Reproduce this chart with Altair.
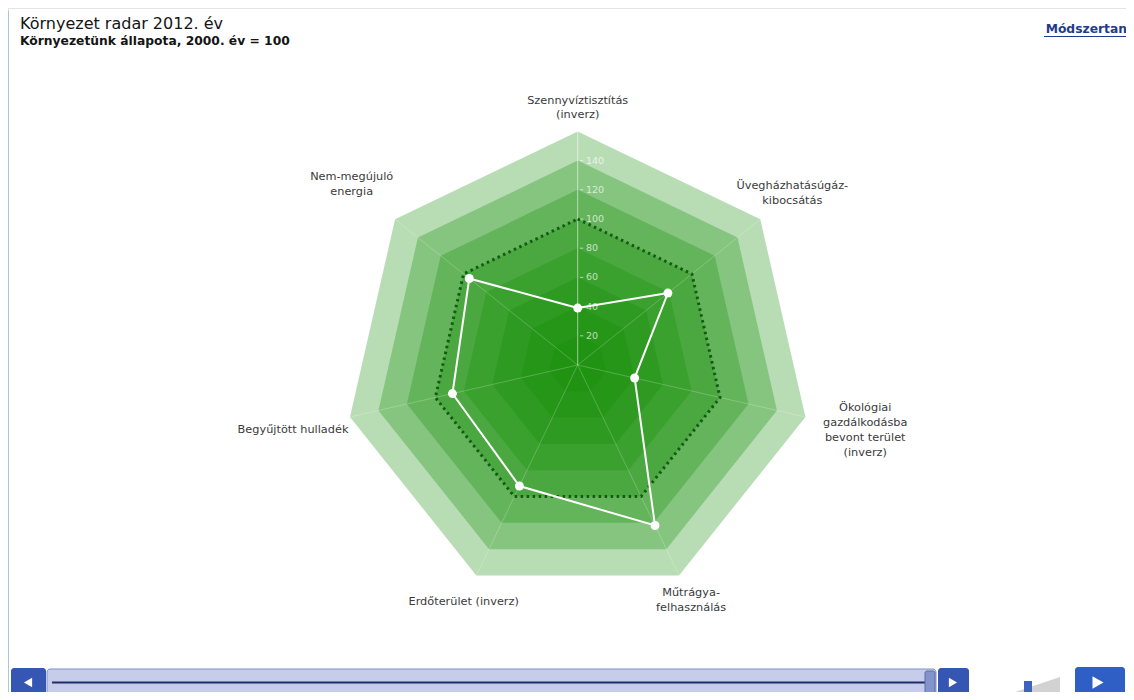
import math
import altair as alt
import pandas as pd

# ---------------- data ----------------
categories = [
    "Szennyvíztisztítás\n(inverz)",
    "Üvegházhatásúgáz-\nkibocsátás",
    "Ökológiai\ngazdálkodásba\nbevont terület\n(inverz)",
    "Műtrágya-\nfelhasználás",
    "Erdőterület (inverz)",
    "Begyűjtött hulladék",
    "Nem-megújuló\nenergia",
]
values_2012 = [39, 79, 40, 122, 92, 88, 95]
base_level = 100
band_levels = [160, 140, 120, 100, 80, 60, 40, 20]
tick_values = [20, 40, 60, 80, 100, 120, 140]
title_text = "Környezet radar 2012. év"
subtitle_text = "Környezetünk állapota, 2000. év = 100"
link_text = "Módszertan"

# ---------------- layout (not data) ----------------
label_radius = [176, 188, 202, 179, 180, 200, 198]
LINE_H = 14.8
W, H = 1118, 684
CX, CY = 569.7, 357.0
K = 1.46
PROJ = dict(type="identity", scale=K, translate=[CX, CY], reflectY=True)

n = len(categories)
ang = [2 * math.pi * i / n for i in range(n)]


def pol(v, a):
    return v * math.sin(a), v * math.cos(a)


# bands (filled heptagons) as GeoJSON
features = []
for lv in band_levels:
    ring = [list(pol(lv, a)) for a in ang]
    ring.append(ring[0])
    features.append({"type": "Feature", "properties": {"level": lv},
                     "geometry": {"type": "Polygon", "coordinates": [ring]}})

bands = alt.Chart(alt.Data(values=features)).mark_geoshape(
    fill="#138d08", fillOpacity=0.3, strokeWidth=0
).project(**PROJ)

# spokes
spk = pd.DataFrame({
    "i": list(range(n)),
    "lon": [0.0] * n, "lat": [0.0] * n,
    "lon2": [pol(160, a)[0] for a in ang],
    "lat2": [pol(160, a)[1] for a in ang],
    "top": [1] + [0] * (n - 1),
})
spokes = alt.Chart(spk).mark_rule(color="white", strokeWidth=1).encode(
    longitude="lon:Q", latitude="lat:Q", longitude2="lon2", latitude2="lat2",
    opacity=alt.condition("datum.top == 1", alt.value(0.55), alt.value(0.22)),
).project(**PROJ)

# 100 reference polygon (dotted)
ref_rows = []
for j in range(n + 1):
    x, y = pol(base_level, ang[j % n])
    ref_rows.append({"o": j, "lon": x, "lat": y})
ref_line = alt.Chart(pd.DataFrame(ref_rows)).mark_line(
    color="#145a12", strokeWidth=3, strokeDash=[2.5, 3.5], strokeCap="butt"
).encode(longitude="lon:Q", latitude="lat:Q", order="o:Q").project(**PROJ)

# tick labels along top axis
tk = pd.DataFrame({"v": tick_values})
tk["lon"] = 5.6
tk["lat"] = tk["v"]
tk["lon_a"] = 1.6
tk["lon_b"] = 3.8
tk["txt"] = tk["v"].astype(str)
tick_marks = alt.Chart(tk).mark_rule(color="white", opacity=0.6, strokeWidth=1).encode(
    longitude="lon_a:Q", latitude="lat:Q", longitude2="lon_b", latitude2="lat"
).project(**PROJ)
tick_text = alt.Chart(tk).mark_text(
    align="left", baseline="middle", font="DejaVu Sans", fontSize=9.5,
    color="white", opacity=0.68
).encode(longitude="lon:Q", latitude="lat:Q", text="txt:N").project(**PROJ)

# data polygon
rows = []
for j in range(n + 1):
    i = j % n
    x, y = pol(values_2012[i], ang[i])
    rows.append({"o": j, "lon": x, "lat": y, "v": values_2012[i]})
dat = pd.DataFrame(rows)
data_line = alt.Chart(dat).mark_line(color="white", strokeWidth=2).encode(
    longitude="lon:Q", latitude="lat:Q", order="o:Q"
).project(**PROJ)
data_pts = alt.Chart(dat.iloc[:n]).mark_point(
    filled=True, color="white", opacity=1, size=80
).encode(longitude="lon:Q", latitude="lat:Q").project(**PROJ)

# category labels, one row per text line, block centred on the anchor
lrows = []
for cat, r, a in zip(categories, label_radius, ang):
    lines = cat.split("\n")
    m = len(lines)
    x0, y0 = pol(r, a)
    for j, ln in enumerate(lines):
        off_px = (j - (m - 1) / 2) * LINE_H
        lrows.append({"line": ln, "lon": x0, "lat": y0 - off_px / K})
labels = alt.Chart(pd.DataFrame(lrows)).mark_text(
    align="center", baseline="middle", font="DejaVu Sans", fontSize=11.3, color="#3a3a3a"
).encode(longitude="lon:Q", latitude="lat:Q", text="line:N").project(**PROJ)

# ---------------- titles / decorations ----------------
one = pd.DataFrame({"t": [title_text], "s": [subtitle_text], "m": [link_text]})
title = alt.Chart(one).mark_text(
    align="left", baseline="alphabetic", font="DejaVu Sans", fontSize=16, color="#151515"
).encode(text="t:N", x=alt.value(12), y=alt.value(21))
subtitle = alt.Chart(one).mark_text(
    align="left", baseline="alphabetic", font="DejaVu Sans", fontSize=12.3,
    fontWeight="bold", color="#151515"
).encode(text="s:N", x=alt.value(12), y=alt.value(37))
link = alt.Chart(one).mark_text(
    align="right", baseline="alphabetic", font="DejaVu Sans", fontSize=12.3,
    fontWeight="bold", color="#1f3c8c"
).encode(text="m:N", x=alt.value(1119), y=alt.value(25))
link_ul = alt.Chart(one).mark_rule(color="#1f3c8c", strokeWidth=1).encode(
    x=alt.value(1036), x2=alt.value(1118), y=alt.value(28.5))

frame_left = alt.Chart(one).mark_rule(color="#a9c6e6", strokeWidth=1).encode(
    x=alt.value(0.5), y=alt.value(3), y2=alt.value(H))
frame_top = alt.Chart(one).mark_rule(color="#e4e4e4", strokeWidth=1).encode(
    x=alt.value(0), x2=alt.value(W), y=alt.value(0.5))

# slider controls
btn_l = alt.Chart(one).mark_rect(fill="#3656b4", cornerRadius=3).encode(
    x=alt.value(3), x2=alt.value(38), y=alt.value(660), y2=alt.value(689))
track = alt.Chart(one).mark_rect(fill="#c6cdea", stroke="#8090c8", strokeWidth=1,
                                 cornerRadius=3).encode(
    x=alt.value(39), x2=alt.value(928), y=alt.value(661), y2=alt.value(688))
track_line = alt.Chart(one).mark_rule(color="#1f2d6c", strokeWidth=2).encode(
    x=alt.value(44), x2=alt.value(918), y=alt.value(674.5))
thumb = alt.Chart(one).mark_rect(fill="#8394cc", stroke="#5b6cab", cornerRadius=2).encode(
    x=alt.value(917), x2=alt.value(927), y=alt.value(663), y2=alt.value(686))
btn_r = alt.Chart(one).mark_rect(fill="#3656b4", cornerRadius=3).encode(
    x=alt.value(930), x2=alt.value(961), y=alt.value(660), y2=alt.value(689))
vol = alt.Chart(one).mark_point(
    shape="M -1 1 L 1 1 L 1 0.33 Z", filled=True, color="#d2d2d2", opacity=1, size=3600
).encode(x=alt.value(1022), y=alt.value(659))
vol_mark = alt.Chart(one).mark_rect(fill="#3f62c0").encode(
    x=alt.value(1016), x2=alt.value(1024), y=alt.value(673), y2=alt.value(689))
play = alt.Chart(one).mark_rect(fill="#2f5fc4", cornerRadius=3).encode(
    x=alt.value(1067), x2=alt.value(1117), y=alt.value(659), y2=alt.value(689))
tri = pd.DataFrame({"x": [20, 945, 1090], "shape": ["triangle-left", "triangle-right", "triangle-right"],
                    "s": [90, 90, 160]})
tris = alt.Chart(tri).mark_point(filled=True, color="white", opacity=1).encode(
    x=alt.X("x:Q", scale=alt.Scale(domain=[0, W], range=[0, W]), axis=None),
    y=alt.value(674.5),
    shape=alt.Shape("shape:N", scale=None),
    size=alt.Size("s:Q", scale=None),
)

chart = alt.layer(
    frame_top, frame_left,
    bands, spokes, ref_line, tick_marks, tick_text, data_line, data_pts, labels,
    title, subtitle, link, link_ul,
    btn_l, track, track_line, thumb, btn_r, vol, vol_mark, play, tris,
).properties(
    width=W, height=H, autosize=alt.AutoSizeParams(type="none"), padding=0
).configure_view(stroke=None).configure(background="white")

chart.save("out.html", embed_options={"renderer": "svg", "actions": False})
